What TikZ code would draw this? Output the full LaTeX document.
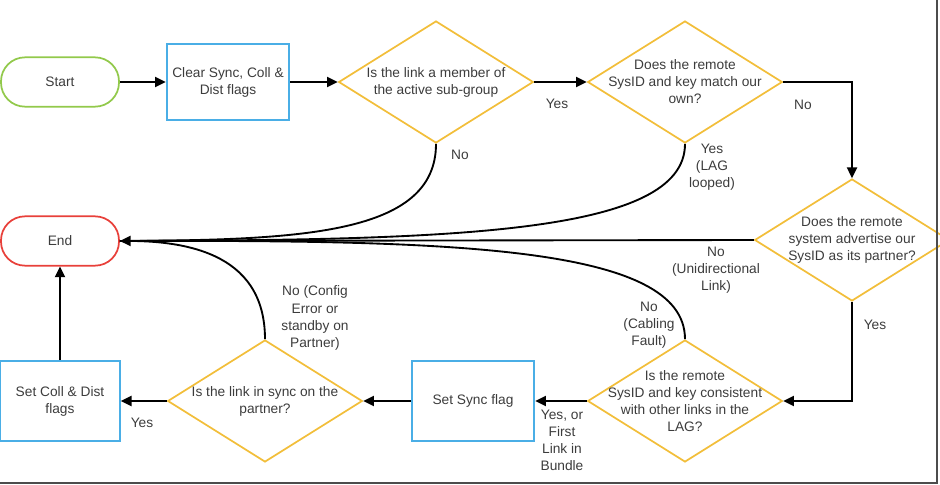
\documentclass[tikz,border=0pt]{standalone}
\usepackage{fontspec}
\setmainfont{Liberation Sans}
\usetikzlibrary{shapes.geometric,arrows.meta}
\definecolor{startgreen}{HTML}{92C94B}
\definecolor{endred}{HTML}{E8403A}
\definecolor{boxblue}{HTML}{4AAEE6}
\definecolor{decyellow}{HTML}{F2BE3A}
\definecolor{inkgrey}{HTML}{3C3C3C}

\begin{document}
\begin{tikzpicture}[x=0.75pt,y=-0.75pt, txt/.style={align=center,text=inkgrey,font=\fontsize{10.3}{12.8}\selectfont}, term/.style={txt,draw,line width=1.3pt,rounded corners=18pt,minimum width=88.5pt,minimum height=37pt}, box/.style={txt,draw=boxblue,line width=1.3pt,minimum width=92pt,minimum height=57pt}, dec/.style={diamond,draw=decyellow,line width=1.3pt,minimum width=146pt,minimum height=91.5pt,inner sep=0pt}, lbl/.style={txt,inner sep=1pt}, conn/.style={line width=1.4pt}, arrow/.style={conn,-{Triangle[length=8pt,width=7.5pt]}}]
    \useasboundingbox (0,0) rectangle (940,485);
    \node[term,draw=startgreen] (start) at (60,82) {Start};
    \node[box] (clear) at (228,82) {Clear Sync, Coll \&\\Dist flags};
    \node[dec,label={[txt]center:Is the link a member of\\the active sub-group}] (member) at (436,82) {};
    \node[dec,label={[txt]center:Does the remote\\SysID and key match our\\own?}] (ownid) at (685,82) {};
    \node[dec,label={[txt]center:Does the remote\\system advertise our\\SysID as its partner?}] (partner) at (852,240) {};
    \node[dec,label={[txt]center:Is the remote\\SysID and key consistent\\with other links in the\\LAG?}] (consist) at (685,401) {};
    \node[box,minimum height=60pt] (sync) at (473,401) {Set Sync flag};
    \node[dec,label={[txt]center:Is the link in sync on the\\partner?}] (insync) at (265,401) {};
    \node[box,minimum width=90pt,minimum height=60pt] (colldist) at (60,401) {Set Coll \& Dist\\flags};
    \node[term,draw=endred] (end) at (60,241) {End};

    % branch labels
    \node[lbl] (lmemyes) at (557,104) {Yes};
    \node[lbl] (lmemno) at (460,155) {No};
    \node[lbl] (lownno) at (803,105) {No};
    \node[lbl] (lownyes) at (712,167) {Yes\\(LAG\\looped)};
    \node[lbl] (lpartno) at (716,270) {No\\(Unidirectional\\Link)};
    \node[lbl] (lpartyes) at (875,325) {Yes};
    \node[lbl] (lconsno) at (649,325) {No\\(Cabling\\Fault)};
    \node[lbl] (lconsyes) at (562,440) {Yes, or\\First\\Link in\\Bundle};
    \node[lbl] (lsyncno) at (315,318) {No (Config\\Error or\\standby on\\Partner)};
    \node[lbl] (lsyncyes) at (142,423) {Yes};

    \draw[arrow] (start) -- (clear);
    \draw[arrow] (clear) -- (member);
    \draw[arrow] (member) -- (ownid);
    \draw[arrow] (ownid.east) -| (partner.north);
    \draw[arrow] (partner.south) |- (consist.east);
    \draw[arrow] (consist) -- (sync);
    \draw[arrow] (sync) -- (insync);
    \draw[arrow] (insync) -- (colldist);
    \draw[arrow] (colldist) -- (end);
    \draw[conn] (member.south) .. controls (436,235) and (300,240) .. (end.east);
    \draw[conn] (ownid.south) .. controls (685,235) and (450,240) .. (end.east);
    \draw[conn] (consist.north) .. controls (685,245) and (450,240) .. (end.east);
    \draw[conn] (insync.north) .. controls (265,250) and (180,240) .. (end.east);
    \draw[arrow] (partner.west) -- (end.east);

    % screenshot frame
    \draw[black!70,line width=0.9pt] (937,0) -- (937,483) -- (0,483);
  \end{tikzpicture}
\end{document}
